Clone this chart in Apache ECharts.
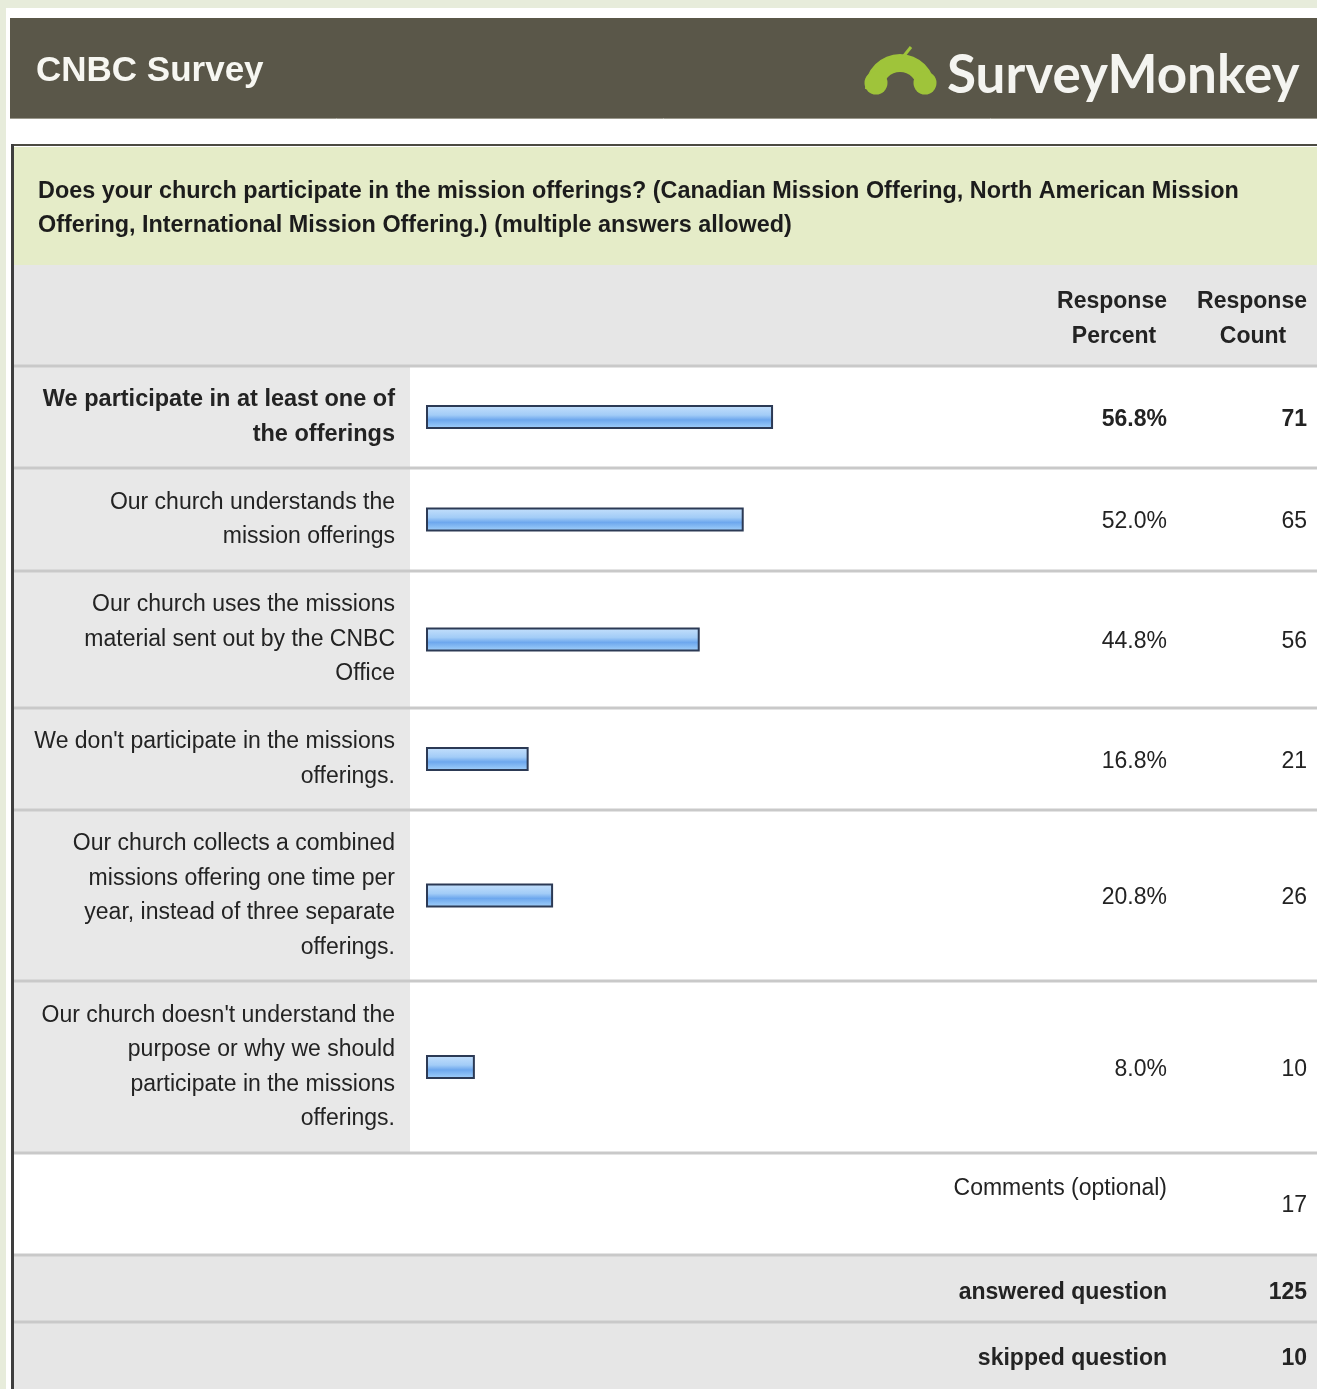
<!DOCTYPE html>
<html>
<head>
<meta charset="utf-8">
<title>CNBC Survey</title>
<script src="https://cdn.jsdelivr.net/npm/echarts@6/dist/echarts.min.js"></script>
<style>
  html, body { margin: 0; padding: 0; background: #e7ecdb; }
  #chart { width: 1317px; height: 1389px; }
</style>
</head>
<body>
<div id="chart"></div>
<script>
// Survey answers (label lines broken as displayed)
const categories = [
  'We participate in at least one of\nthe offerings',
  'Our church understands the\nmission offerings',
  'Our church uses the missions\nmaterial sent out by the CNBC\nOffice',
  "We don't participate in the missions\nofferings.",
  'Our church collects a combined\nmissions offering one time per\nyear, instead of three separate\nofferings.',
  "Our church doesn't understand the\npurpose or why we should\nparticipate in the missions\nofferings."
];
const responsePercent = [56.8, 52.0, 44.8, 16.8, 20.8, 8.0];
const responseCount = [71, 65, 56, 21, 26, 10];
const commentCount = 17;
const answeredQuestion = 125;
const skippedQuestion = 10;

const surveyTitle = 'CNBC Survey';
const questionLines = [
  'Does your church participate in the mission offerings? (Canadian Mission Offering, North American Mission',
  'Offering, International Mission Offering.) (multiple answers allowed)'
];

// ---- layout ----
const FONT = '"Liberation Sans", Arial, Helvetica, sans-serif';
const FS = 23;
const DY = 2.5;                        // baseline nudge for text
const rowEdges = [366, 468, 571, 708, 810, 981, 1153, 1255, 1322, 1392];
const TABLE_L = 14, TABLE_R = 1317, LABEL_COL_R = 410;
const BAR_L = 426, BAR_W = 611;        // 0..100 % scale
const PCT_R = 1167, CNT_R = 1307;
const TXT = '#232323';

const chart = echarts.init(document.getElementById('chart'), null, { renderer: 'canvas' });

const grids = [], xAxes = [], yAxes = [], series = [];
const maxPct = Math.max(...responsePercent);

categories.forEach((cat, i) => {
  const top = rowEdges[i], h = rowEdges[i + 1] - rowEdges[i];
  const isTop = responsePercent[i] === maxPct;
  grids.push({ left: BAR_L, width: BAR_W, top: top, height: h, containLabel: false });
  xAxes.push({ type: 'value', gridIndex: i, min: 0, max: 100, show: false });
  yAxes.push({
    type: 'category', gridIndex: i, z: 10,
    data: [{
      value: cat,
      textStyle: { fontWeight: isTop ? 'bold' : 'normal', fontSize: isTop ? 23.5 : FS }
    }],
    axisLine: { show: false }, axisTick: { show: false }, splitLine: { show: false },
    axisLabel: {
      align: 'right', margin: BAR_L - 395, fontSize: FS, lineHeight: 34.5,
      fontFamily: FONT, color: TXT,
      backgroundColor: 'rgba(255,255,255,0)', padding: [DY * 2, 0, 0, 0]
    }
  });
  series.push({
    type: 'bar', xAxisIndex: i, yAxisIndex: i, z: 10,
    data: [responsePercent[i]], barWidth: 24, silent: true,
    itemStyle: {
      borderColor: '#2c3a55', borderWidth: 2,
      color: new echarts.graphic.LinearGradient(0, 0, 0, 1, [
        { offset: 0, color: '#c6e1fc' },
        { offset: 0.42, color: '#a2ccf7' },
        { offset: 0.62, color: '#6da7ed' },
        { offset: 0.85, color: '#8fc2f6' },
        { offset: 1, color: '#aad3fa' }
      ])
    }
  });
});

// ---- static page pieces ----
const g = [];
function rect(x, y, w, h, fill, z) {
  g.push({ type: 'rect', z: z || 0, silent: true, shape: { x, y, width: w, height: h }, style: { fill } });
}
function line(x1, y1, x2, y2, stroke, lw, z) {
  g.push({ type: 'line', z: z || 1, silent: true, shape: { x1, y1, x2, y2 }, style: { stroke, lineWidth: lw } });
}
function text(t, x, y, opts) {
  opts = opts || {};
  g.push({
    type: 'text', z: 20, silent: true,
    style: {
      text: t, x, y: y + DY,
      fill: opts.fill || TXT,
      fontSize: opts.size || FS,
      fontWeight: opts.weight || 'normal',
      fontFamily: opts.family || FONT,
      align: opts.align || 'left',
      verticalAlign: 'middle'
    }
  });
}

// page + header band
rect(6, 8, 1311, 1381, '#ffffff');
rect(10, 18, 1307, 100, '#5a5749');
line(10, 118.5, 1317, 118.5, '#9a988c', 1);
text(surveyTitle, 36, 69, { fill: '#f7f7f2', size: 35, weight: 'bold' });

// logo
const LOGO_GREEN = '#9fc43a';
g.push({ type: 'sector', z: 2, silent: true,
  shape: { cx: 900, cy: 89, r: 35, r0: 17, startAngle: Math.PI, endAngle: Math.PI * 2 },
  style: { fill: LOGO_GREEN } });
g.push({ type: 'circle', z: 2, silent: true, shape: { cx: 876, cy: 83, r: 11.5 }, style: { fill: LOGO_GREEN } });
g.push({ type: 'circle', z: 2, silent: true, shape: { cx: 925, cy: 83, r: 11.5 }, style: { fill: LOGO_GREEN } });
g.push({ type: 'line', z: 2, silent: true, shape: { x1: 903, y1: 57, x2: 911, y2: 47 }, style: { stroke: LOGO_GREEN, lineWidth: 3 } });
text('SurveyMonkey', 947, 73, { fill: '#f4f4f0', size: 53, weight: 'bold', family: 'Lato, "Open Sans", sans-serif' });

// table frame
rect(TABLE_L, 147, TABLE_R - TABLE_L, 118, '#e5ecc8');            // question band
rect(TABLE_L, 265, TABLE_R - TABLE_L, rowEdges[0] - 265, '#e6e6e6'); // column headings
for (let i = 0; i < categories.length; i++) {
  rect(TABLE_L, rowEdges[i], LABEL_COL_R - TABLE_L, rowEdges[i + 1] - rowEdges[i], '#e8e8e8');
}
rect(TABLE_L, rowEdges[7], TABLE_R - TABLE_L, rowEdges[9] - rowEdges[7], '#e6e6e6');
rowEdges.slice(0, 9).forEach(y => line(TABLE_L, y, TABLE_R, y, '#c9c9c9', 3, 1));
line(11, 145, TABLE_R, 145, '#4c4b42', 2, 3);
line(12.5, 144, 12.5, 1389, '#3e3e3e', 3, 3);

// question text
text(questionLines[0], 38, 189, { size: 23.4, weight: 'bold', fill: '#1c1c1c' });
text(questionLines[1], 38, 223, { size: 23.4, weight: 'bold', fill: '#1c1c1c' });

// column headings
text('Response', 1112, 299, { weight: 'bold', align: 'center' });
text('Percent', 1114, 334, { weight: 'bold', align: 'center' });
text('Response', 1252, 299, { weight: 'bold', align: 'center' });
text('Count', 1253, 334, { weight: 'bold', align: 'center' });

// percent / count columns
categories.forEach((c, i) => {
  const cy = (rowEdges[i] + rowEdges[i + 1]) / 2;
  const w = responsePercent[i] === maxPct ? 'bold' : 'normal';
  text(responsePercent[i].toFixed(1) + '%', PCT_R, cy, { align: 'right', weight: w });
  text(String(responseCount[i]), CNT_R, cy, { align: 'right', weight: w });
});

// footer rows
text('Comments (optional)', PCT_R, 1186, { align: 'right' });
text(String(commentCount), CNT_R, 1203, { align: 'right' });
text('answered question', PCT_R, 1290, { align: 'right', weight: 'bold' });
text(String(answeredQuestion), CNT_R, 1290, { align: 'right', weight: 'bold' });
text('skipped question', PCT_R, 1356, { align: 'right', weight: 'bold' });
text(String(skippedQuestion), CNT_R, 1356, { align: 'right', weight: 'bold' });

chart.setOption({
  animation: false,
  backgroundColor: '#e7ecdb',
  graphic: { elements: g },
  grid: grids,
  xAxis: xAxes,
  yAxis: yAxes,
  series: series
});
</script>
</body>
</html>
